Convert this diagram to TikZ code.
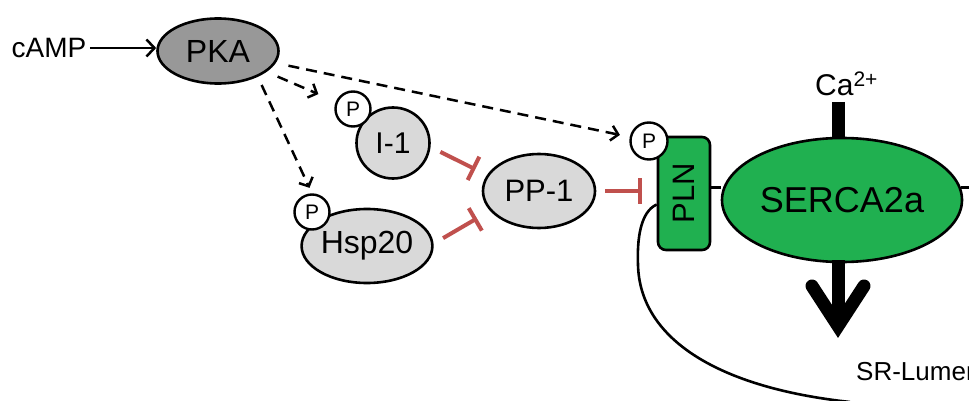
\documentclass[tikz,border=0pt]{standalone}
\usepackage{fontspec}
\setmainfont{Liberation Sans}
\usetikzlibrary{arrows.meta,shapes.geometric,calc}
\definecolor{pkagray}{RGB}{152,152,152}
\definecolor{lgray}{RGB}{217,217,217}
\definecolor{sgreen}{RGB}{32,176,80}
\definecolor{inhred}{RGB}{192,80,77}
\newcommand{\fs}[1]{\fontsize{#1}{#1}\selectfont}
\tikzset{
  ell/.style={ellipse, draw, line width=2.6pt, inner sep=0pt},
  pcirc/.style={circle, draw, fill=white, line width=2.4pt, inner sep=0pt, minimum size=35pt, font=\fs{21}},
  darr/.style={draw, line width=2.5pt, dash pattern=on 11pt off 7pt, -{Straight Barb[length=7pt,width=15pt,line width=2.5pt]}},
  sarr/.style={draw, line width=2.5pt, -{Straight Barb[length=8pt,width=17pt,line width=2.5pt]}},
  inh/.style={draw=inhred, line width=4pt, -{Bar[width=26pt,line width=4pt]}},
  memb/.style={draw, line width=2.6pt},
  thick bar/.style={draw, line width=13pt}
}
\begin{document}
\begin{tikzpicture}[x=1pt,y=-1pt]
\useasboundingbox (0,0) rectangle (969,401);
% nodes
\node[font=\fs{28}] (cAMP) at (49,48) {cAMP};
\node[ell, fill=pkagray, minimum width=121pt, minimum height=65pt, font=\fs{32}] (PKA) at (218,51) {PKA};
\node[ell, fill=lgray, minimum width=73pt, minimum height=71pt, font=\fs{30}] (I1) at (393,143) {I-1};
\node[pcirc] (P1) at (353,109) {P};
\node[ell, fill=lgray, minimum width=130pt, minimum height=74pt, font=\fs{32}] (Hsp) at (367,246) {Hsp20};
\node[pcirc] (P2) at (312,212) {P};
\node[ell, fill=lgray, minimum width=112pt, minimum height=74pt, font=\fs{31}] (PP1) at (539,191) {PP-1};
\node[draw, fill=sgreen, line width=2.6pt, rounded corners=8pt, minimum width=52pt, minimum height=113pt, inner sep=0pt] (PLN) at (684,193.5) {};
\node[rotate=90, font=\fs{31}] (PLNt) at (PLN.center) {PLN};
\node[pcirc, minimum size=37pt] (P3) at (649,141) {P};
\node[ell, fill=sgreen, minimum width=240pt, minimum height=124pt, font=\fs{36}] (SERCA) at (842,200) {SERCA2a};
\node[font=\fs{30}, anchor=base west, inner sep=0pt] (Ca) at (815,96) {Ca\textsuperscript{2+}};
\node[font=\fs{26}, anchor=base west, inner sep=0pt] (SR) at (856,380) {SR-Lumen};
% connectors
\draw[sarr] (cAMP.east) -- (cAMP.east -| PKA.west);
\draw[darr, shorten <=13pt, shorten >=10pt] (PKA) -- (P3);
\draw[darr, shorten <=12pt, shorten >=19pt] (PKA) -- (P1);
\draw[darr, shorten <=9pt, shorten >=6pt] (PKA.-33) -- (P2.north);
\draw[inh, shorten <=11pt, shorten >=13pt] (I1.-6) -- (PP1.163);
\draw[inh, shorten <=11pt, shorten >=15pt] (Hsp.2) -- (PP1.202);
\draw[inh, shorten <=9pt, shorten >=15pt] (PP1.east) -- (PP1.east -| PLN.west);
% membrane
\draw[memb] ([yshift=6pt]PLN.east) -- ([yshift=6pt]PLN.east -| SERCA.west);
\draw[memb] (SERCA.6) -- ++(20,0);
\draw[memb] ([yshift=-11pt]PLN.west) .. controls (640,212) and (637,240) .. (638,265)
  .. controls (640,340) and (720,388) .. (850,402);
% Ca flux
\coordinate (cab) at (838,102);
\draw[thick bar] (cab) -- (cab |- SERCA.north);
\coordinate (stem) at (838,260);
\coordinate (vtx) at (838,326);
\draw[thick bar] (stem) -- (vtx);
\draw[thick bar, line cap=round, line join=miter] ($(vtx)+(-26,-40)$) -- (vtx) -- ($(vtx)+(26,-40)$);
\end{tikzpicture}
\end{document}
